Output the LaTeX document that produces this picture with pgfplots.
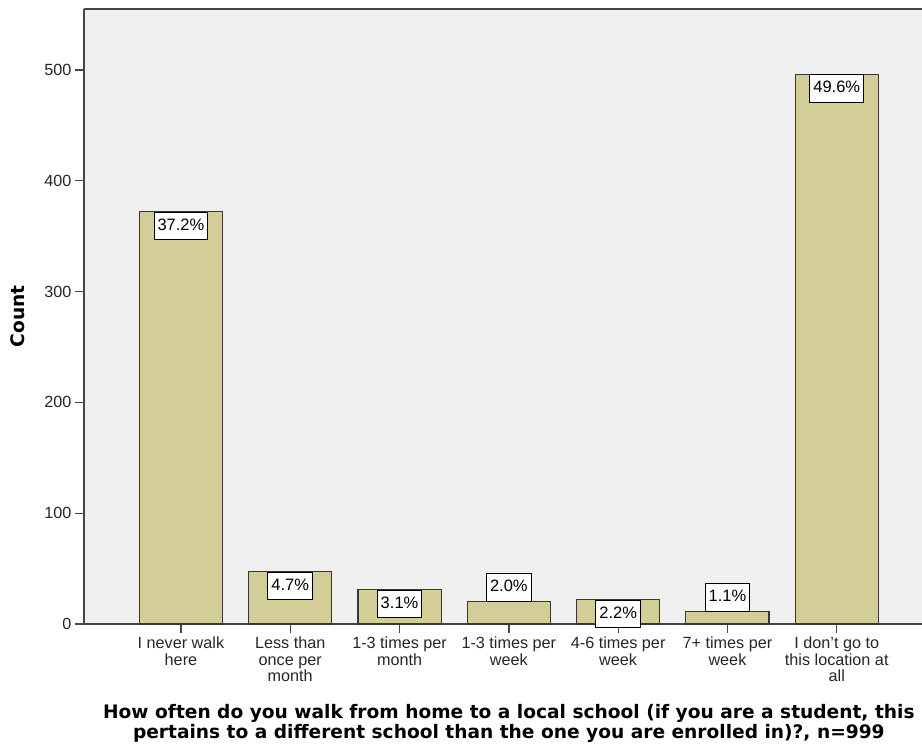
\documentclass[border=0pt]{standalone}
\usepackage{pgfplots}
\pgfplotsset{compat=1.18}
\usepackage{fontspec}
\setmainfont{Liberation Sans}
\newfontfamily\titlefont{DejaVu Sans}
\definecolor{bgc}{RGB}{240,240,240}
\definecolor{barc}{RGB}{211,206,151}
\definecolor{edgec}{RGB}{55,55,55}
\definecolor{axc}{RGB}{70,70,70}
\begin{document}
\begin{tikzpicture}
\useasboundingbox (-84bp,-124bp) rectangle (838bp,624bp);
\begin{axis}[
  at={(0,0)}, anchor=south west,
  scale only axis, width=838bp, height=615bp,
  xmin=-0.887, xmax=6.78, ymin=0, ymax=555.1,
  clip=false,
  axis lines*=left,
  axis line style={axc, line width=1.3bp},
  axis background/.style={fill=bgc},
  tick align=outside,
  major tick length=9bp,
  tick style={axc, line width=1.3bp},
  xtick={0,1,2,3,4,5,6},
  xticklabels={{I never walk\\here},{Less than\\once per\\month},{1-3 times per\\month},{1-3 times per\\week},{4-6 times per\\week},{7+ times per\\week},{I don't go to\\this location at\\all}},
  ytick={0,100,200,300,400,500},
  /pgf/number format/assume math mode=true,
  ticklabel style={font=\fontsize{16.2bp}{16.8bp}\selectfont, text=black!85},
  xticklabel style={align=center},
  xlabel={How often do you walk from home to a local school (if you are a student, this\\pertains to a different school than the one you are enrolled in)?, n=999},
  every axis x label/.style={font=\titlefont\bfseries\fontsize{18.6bp}{20bp}\selectfont, align=center, at={(axis cs:3,0)}, anchor=north, inner sep=0pt, yshift=-80bp},
  ylabel={Count},
  every axis y label/.style={font=\titlefont\bfseries\fontsize{18.6bp}{19bp}\selectfont, at={(axis description cs:-0.0788,0.5)}, rotate=90, anchor=center, inner sep=0pt},
]
\addplot[ybar, bar width=0.76, fill=barc, draw=edgec, line width=1.1bp]
  coordinates {(0,372) (1,47) (2,31) (3,20) (4,22) (5,11) (6,496)};
\addplot[draw=none, mark=none, nodes near coords, point meta=explicit symbolic,
  every node near coord/.append style={anchor=north, fill=white, draw=black, line width=0.9bp, inner xsep=3.5bp, inner ysep=6.5bp, text height=11.5bp, text depth=3bp, font=\fontsize{16.5bp}{17bp}\selectfont}]
  coordinates {(0,372) [37.2\%] (1,47) [4.7\%] (2,31) [3.1\%] (4,22) [2.2\%] (6,496) [49.6\%]};
\addplot[draw=none, mark=none, nodes near coords, point meta=explicit symbolic,
  every node near coord/.append style={anchor=south, fill=white, draw=black, line width=0.9bp, inner xsep=3.5bp, inner ysep=6.5bp, text height=11.5bp, text depth=3bp, font=\fontsize{16.5bp}{17bp}\selectfont}]
  coordinates {(3,20) [2.0\%] (5,11) [1.1\%]};
\draw[axc, line width=1.3bp] (rel axis cs:0,1) -- (rel axis cs:1,1);
\end{axis}
\end{tikzpicture}
\end{document}
